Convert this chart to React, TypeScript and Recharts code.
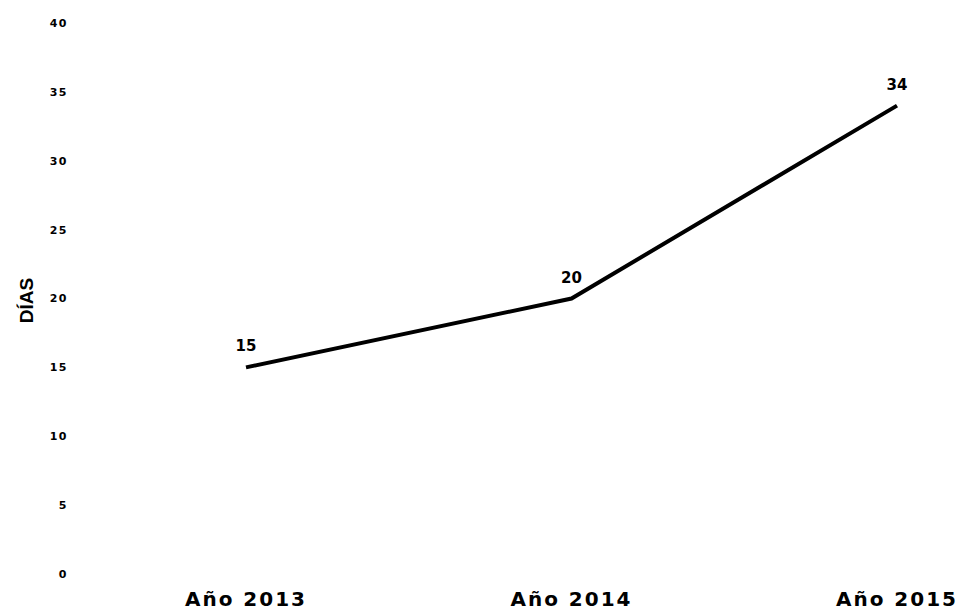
import { LineChart, Line, XAxis, YAxis, LabelList, Label } from "recharts";

const years = ["Año 2013", "Año 2014", "Año 2015"];
const dias = [15, 20, 34];
const yTicks = [0, 5, 10, 15, 20, 25, 30, 35, 40];

const data = years.map((year, i) => ({ year, dias: dias[i] }));

const FONT = "'DejaVu Sans', Verdana, sans-serif";

const YearTick = ({ x, y, payload }: any) => (
  <text
    x={x}
    y={y + 32}
    textAnchor="middle"
    fill="#000"
    fontFamily={FONT}
    fontWeight="bold"
    fontSize={20}
    letterSpacing={2}
  >
    {payload.value}
  </text>
);

// vertical axis title, baseline on the right so the glyphs sit left of it
const AxisTitle = ({ viewBox }: any) => {
  const bx = viewBox.x + 33;
  const cy = viewBox.y + viewBox.height / 2 + 2;
  return (
    <text
      x={bx}
      y={cy}
      transform={`rotate(-90, ${bx}, ${cy})`}
      textAnchor="middle"
      fill="#000"
      fontFamily="'Liberation Sans', Arial, sans-serif"
      fontWeight="bold"
      fontSize={19}
    >
      DÍAS
    </text>
  );
};

const App = () => {
  return (
    <div style={{ position: "absolute", left: 0, top: 0, background: "#fff" }}>
      <LineChart
        width={963}
        height={612}
        data={data}
        margin={{ top: 23, right: 0, bottom: 0, left: 0 }}
      >
        <XAxis
          dataKey="year"
          height={38}
          axisLine={false}
          tickLine={false}
          tickSize={0}
          tickMargin={0}
          padding={{ left: 166, right: 66 }}
          tick={<YearTick />}
          interval={0}
        />
        <YAxis
          width={80}
          domain={[0, 40]}
          ticks={yTicks}
          interval={0}
          axisLine={false}
          tickLine={false}
          tickSize={0}
          tickMargin={12}
          tick={{
            fill: "#000",
            fontFamily: FONT,
            fontWeight: "bold",
            fontSize: 11,
            letterSpacing: 1.5,
          }}
        >
          <Label content={<AxisTitle />} />
        </YAxis>
        <Line
          type="linear"
          dataKey="dias"
          stroke="#000"
          strokeWidth={4}
          dot={false}
          isAnimationActive={false}
        >
          <LabelList
            dataKey="dias"
            position="top"
            offset={16}
            fill="#000"
            fontFamily={FONT}
            fontWeight="bold"
            fontSize={15}
          />
        </Line>
      </LineChart>
    </div>
  );
};

export default App;
